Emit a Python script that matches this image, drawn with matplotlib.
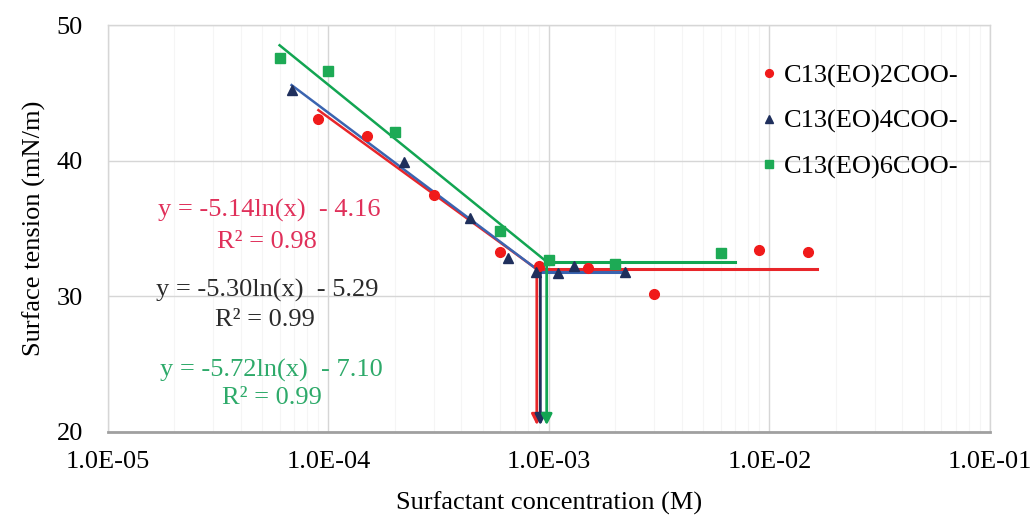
import numpy as np
import matplotlib
matplotlib.use("Agg")
import matplotlib.pyplot as plt
from matplotlib.ticker import FixedLocator, FuncFormatter, LogLocator

plt.rcParams['font.family'] = ['Liberation Serif', 'DejaVu Serif']

# data
labels = ["C13(EO)2COO-", "C13(EO)4COO-", "C13(EO)6COO-"]

x_eo2 = [9e-5, 1.5e-4, 3e-4, 6e-4, 9e-4, 1.5e-3, 3e-3, 9e-3, 1.5e-2]
y_eo2 = [43.1, 41.8, 37.5, 33.3, 32.2, 32.1, 30.2, 33.4, 33.3]

x_eo4 = [6.8e-5, 2.2e-4, 4.4e-4, 6.5e-4, 8.7e-4, 1.1e-3, 1.3e-3, 2.2e-3]
y_eo4 = [45.2, 39.9, 35.8, 32.8, 31.8, 31.7, 32.2, 31.8]

x_eo6 = [6e-5, 1e-4, 2e-4, 6e-4, 1e-3, 2e-3, 6e-3]
y_eo6 = [47.6, 46.6, 42.1, 34.8, 32.7, 32.4, 33.2]

# log fits y = a ln(x) + b, plateau level and end of plateau line
slopes = [-5.14, -5.30, -5.72]
intercepts = [-4.16, -5.29, -7.10]
r2 = [0.98, 0.99, 0.99]
plateau = [32.0, 31.8, 32.55]
plateau_end = [1.65e-2, 2.2e-3, 7e-3]
arrow_tip = 20.5

point_colors = ["#F01A1A", "#1F2F5C", "#1DAA55"]
line_colors = ["#E8262A", "#3A64B0", "#12A552"]
text_colors = ["#E0305A", "#2B2B2B", "#2EAA6A"]
markers = ["o", "^", "s"]

xs = [x_eo2, x_eo4, x_eo6]
ys = [y_eo2, y_eo4, y_eo6]

fig = plt.figure(figsize=(10.35, 5.28), dpi=100)
ax = fig.add_axes([108 / 1035, 1 - 432 / 528, 882 / 1035, 407 / 528])

for i in range(3):
    a, b = slopes[i], intercepts[i]
    cmc = np.exp((plateau[i] - b) / a)
    xf = np.array([xs[i][0], cmc])
    ax.plot(xf, a * np.log(xf) + b, color=line_colors[i], lw=1.8, zorder=3)
    ax.plot([cmc, plateau_end[i]], [plateau[i], plateau[i]],
            color=line_colors[i], lw=2.2, zorder=3)
    ax.annotate("", xy=(cmc, arrow_tip), xytext=(cmc, plateau[i]),
                arrowprops=dict(arrowstyle="-|>", color=line_colors[i] if i != 1 else point_colors[1],
                                lw=2, mutation_scale=16, shrinkA=0, shrinkB=0),
                zorder=3)
    ax.plot(xs[i], ys[i], linestyle="none", marker=markers[i],
            color=point_colors[i], markersize=7, label=labels[i], zorder=4)

eq_pos = [(0.183, 0.545), (0.180, 0.349), (0.185, 0.152)]
r2_pos = [(0.180, 0.467), (0.178, 0.275), (0.186, 0.0835)]
for i in range(3):
    sign = "-" if intercepts[i] < 0 else "+"
    eq = f"y = {slopes[i]:.2f}ln(x)  {sign} {abs(intercepts[i]):.2f}"
    ax.text(*eq_pos[i], eq, transform=ax.transAxes, ha="center", va="center",
            fontsize=19, color=text_colors[i], zorder=5)
    ax.text(*r2_pos[i], f"R² = {r2[i]:.2f}", transform=ax.transAxes,
            ha="center", va="center", fontsize=19, color=text_colors[i], zorder=5)

ax.set_xscale("log")
ax.set_xlim(1e-5, 1e-1)
ax.set_ylim(20, 50)
ax.xaxis.set_major_locator(FixedLocator([1e-5, 1e-4, 1e-3, 1e-2, 1e-1]))
ax.xaxis.set_major_formatter(FuncFormatter(lambda v, p: f"{v:.1E}"))
ax.xaxis.set_minor_locator(LogLocator(base=10, subs=np.arange(2, 10)))
ax.xaxis.set_minor_formatter(FuncFormatter(lambda v, p: ""))
ax.set_yticks([20, 30, 40, 50])
ax.tick_params(axis="both", which="both", length=0, labelsize=19)
ax.tick_params(axis="x", pad=14)
ax.tick_params(axis="y", pad=18)

ax.grid(True, which="major", color="#D6D6D6", lw=1.0, zorder=0)
ax.grid(True, which="minor", axis="x", color="#F5F5F5", lw=0.8, zorder=0)
ax.set_axisbelow(True)
for s in ["top", "right", "left"]:
    ax.spines[s].set_color("#D6D6D6")
    ax.spines[s].set_linewidth(1.0)
ax.spines["bottom"].set_color("#A0A0A0")
ax.spines["bottom"].set_linewidth(2.0)

ax.set_xlabel("Surfactant concentration (M)", fontsize=19, labelpad=13)
ax.set_ylabel("Surface tension (mN/m)", fontsize=19, labelpad=8)

ax.legend(loc="upper left", bbox_to_anchor=(0.73, 0.93), frameon=False,
          fontsize=19, handlelength=0.5, handletextpad=0.3, labelspacing=0.82,
          markerscale=0.8, borderaxespad=0)

fig.savefig("out.png", dpi=100)
